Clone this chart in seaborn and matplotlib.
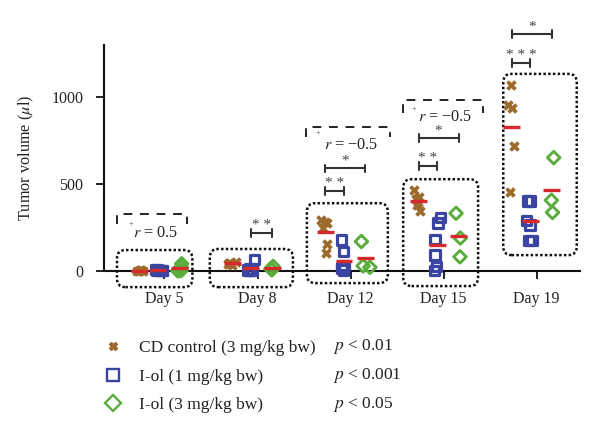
"""
Tumor volume scatter per day with group means, boxes and significance brackets
"""
import numpy as np
import pandas as pd
import matplotlib
matplotlib.use("Agg")
import matplotlib.pyplot as plt
from matplotlib.lines import Line2D
from matplotlib.patches import FancyBboxPatch
import seaborn as sns

days = ["Day 5", "Day 8", "Day 12", "Day 15", "Day 19"]
groups = ["CD control (3 mg/kg bw)", "I-ol (1 mg/kg bw)", "I-ol (3 mg/kg bw)"]
p_values = ["$p$ < 0.01", "$p$ < 0.001", "$p$ < 0.05"]

# tumor volumes (ul), one list per day
cd_control = [[4, 2, 0, 0, 0],
              [50, 45, 42, 38, 35],
              [290, 280, 272, 245, 155, 100],
              [465, 425, 410, 395, 380, 345],
              [1067, 955, 935, 717, 454]]
iol_1mg = [[8, 5, 2, 0, 0, 0],
           [65, 10, 5, 0, 0, 0],
           [176, 110, 30, 20, 12, 5],
           [305, 275, 180, 90, 25, 0],
           [400, 400, 288, 262, 175, 175]]
iol_3mg = [[40, 22, 20, 0, 0, 0],
           [25, 12, 5],
           [168, 28, 20],
           [330, 188, 80],
           [650, 405, 335]]

# correlation labels and significance stars: (day, group a, group b, label)
r_labels = ["$r$ = 0.5", "$r$ = \u22120.5", "$r$ = \u22120.5"]
r_days = ["Day 5", "Day 12", "Day 15"]
sig_pairs = [("Day 8", 1, 2, "**"), ("Day 12", 0, 2, "*"), ("Day 12", 0, 1, "**"),
             ("Day 15", 0, 2, "*"), ("Day 15", 0, 1, "**"),
             ("Day 19", 0, 2, "*"), ("Day 19", 0, 1, "***")]

# ---- layout (not data) ----
colors = ["#9c6a2c", "#3a45a2", "#5aac3c"]
mean_red = "#d5292b"
offsets = [-0.27, -0.07, 0.16]
boxes = [(-0.51, 0.30, -94, 119), (-0.513, 0.38, -94, 125), (-0.47, 0.40, -71, 388),
         (-0.435, 0.37, -88, 526), (-0.36, 0.43, 90, 1131)]
# (x left, x right, y top, y leg end, text x, text y, plus x, plus y)
r_layout = [(-0.51, 0.24, 326, 268, -0.095, 219, -0.36, 268),
            (-0.48, 0.42, 828, 770, 0.01, 724, -0.35, 791),
            (-0.44, 0.42, 981, 906, 0.02, 882, -0.32, 929)]
sig_heights = [218, 588, 460, 761, 603, 1359, 1195]

sns.set_style("ticks")
plt.rcParams["font.family"] = ["Liberation Serif", "DejaVu Serif"]
plt.rcParams["mathtext.fontset"] = "stix"

rows = []
for group, series in zip(groups, [cd_control, iol_1mg, iol_3mg]):
    for day, values in zip(days, series):
        for v in values:
            rows.append({"group": group, "day": day, "volume": v})
df = pd.DataFrame(rows)
day_index = {d: i for i, d in enumerate(days)}
group_offset = dict(zip(groups, offsets))
df["pos"] = df["day"].map(day_index) + df["group"].map(group_offset)

fig = plt.figure(figsize=(6, 4.36), dpi=100)
ax = fig.add_axes([0.1733, 0.379, 0.7934, 0.5178])

np.random.seed(3)
marker_kw = [dict(marker="X", size=7.6, lw=0),
             dict(marker="s", size=6.8, lw=2.3),
             dict(marker="D", size=6.4, lw=2.1)]
for group, color, kw in zip(groups, colors, marker_kw):
    n_before = len(ax.collections)
    sns.stripplot(data=df[df["group"] == group], x="pos", y="volume", native_scale=True,
                  orient="x", jitter=0.05, marker=kw["marker"], size=kw["size"],
                  color=color, ax=ax, legend=False, zorder=3, clip_on=False)
    # stripplot makes one collection per position, restyle them all
    for pts in ax.collections[n_before:]:
        pts.set_edgecolor(color)
        pts.set_facecolor(color if kw["marker"] == "X" else "none")
        pts.set_linewidth(kw["lw"])

means = df.groupby(["group", "day"], sort=False)["volume"].mean().reset_index()
mean_pos = means["day"].map(day_index) + means["group"].map(group_offset)
ax.hlines(means["volume"], mean_pos - 0.09, mean_pos + 0.09, color=mean_red, lw=2.4,
          zorder=4, clip_on=False)

ax.set_xlim(-0.65, 4.465)
ax.set_ylim(0, 1297)
ax.set_xticks(range(len(days)))
ax.set_xticklabels(days)
ax.set_yticks([0, 500, 1000])
ax.set_xlabel("")
ax.set_ylabel("Tumor volume ($\\mu$l)", fontsize=11.7, color="#222")
ax.yaxis.set_label_coords(-0.143, 0.5)
ax.tick_params(length=5.8, width=1.3, labelsize=11.5, pad=9, color="#111", labelcolor="#222")
sns.despine(ax=ax)
for side in ["left", "bottom"]:
    ax.spines[side].set_linewidth(1.5)
    ax.spines[side].set_color("#111")

# dotted rounded boxes round each day
x_per_px = (4.465 + 0.65) / (0.7934 * 600)
y_per_px = 1297 / (0.5178 * 436)
aspect = y_per_px / x_per_px
for i, (x0, x1, y0, y1) in enumerate(boxes):
    ax.add_patch(FancyBboxPatch((i + x0, y0), x1 - x0, y1 - y0,
                                boxstyle="round,pad=0,rounding_size=0.09",
                                mutation_aspect=aspect, fill=False, ec="#111", lw=1.8,
                                ls=(0, (1, 0.9)), clip_on=False, zorder=2))

# dashed correlation brackets
for day, label, (xl, xr, yt, yb, tx, ty, px, py) in zip(r_days, r_labels, r_layout):
    c = day_index[day]
    ax.plot([c + xl, c + xl, c + xr, c + xr], [yb, yt, yt, yb], color="#222", lw=1.4,
            ls=(0, (4.5, 4)), clip_on=False)
    ax.text(c + tx, ty, label, ha="center", va="center", fontsize=11.7, color="#222")
    ax.text(c + px, py, "+", ha="center", va="center", fontsize=6, color="#444")

# significance brackets
cap = 22
for (day, a, b, label), y in zip(sig_pairs, sig_heights):
    c = day_index[day]
    xa, xb = c + offsets[a], c + offsets[b]
    ax.plot([xa, xb], [y, y], color="#333", lw=1.5, clip_on=False)
    ax.plot([xa, xa], [y - cap, y + cap], color="#333", lw=1.5, clip_on=False)
    ax.plot([xb, xb], [y - cap, y + cap], color="#333", lw=1.5, clip_on=False)
    ax.text((xa + xb) / 2, y + 20, " ".join(label), ha="center", va="baseline",
            fontsize=11, color="#444")

handles = [Line2D([], [], ls="none", marker="X", ms=6, color=colors[0]),
           Line2D([], [], ls="none", marker="s", ms=8.5, mfc="none", mec=colors[1], mew=1.7),
           Line2D([], [], ls="none", marker="D", ms=8, mfc="none", mec=colors[2], mew=1.7)]
fig.legend(handles, groups, loc="center left", bbox_to_anchor=(0.174, 0.136), frameon=False,
           fontsize=12.5, handlelength=1.0, handletextpad=1.0, labelspacing=0.72,
           borderpad=0, borderaxespad=0, labelcolor="#222")
for i, p in enumerate(p_values):
    fig.text(333 / 600, 1 - (346.7 + 28.7 * i) / 436, p, va="center", fontsize=12.5, color="#222")

fig.savefig("out.png", dpi=100)
